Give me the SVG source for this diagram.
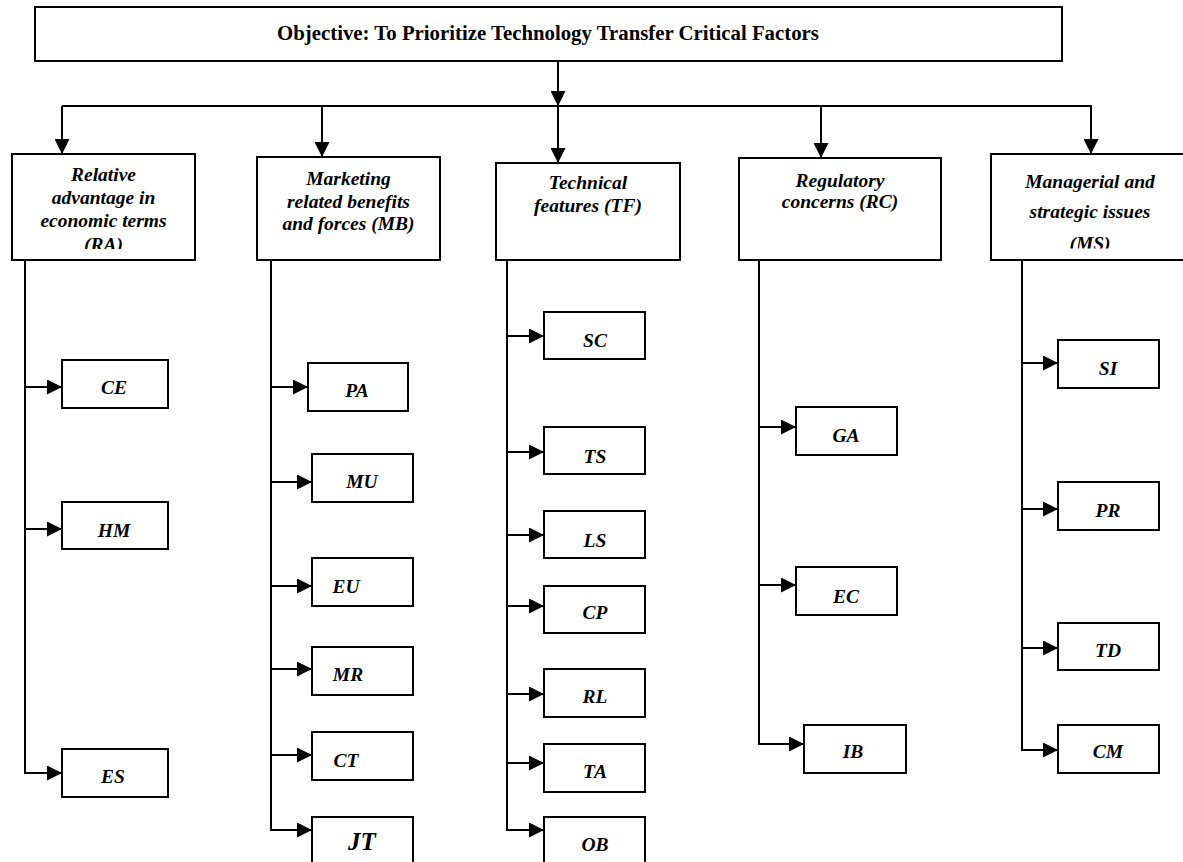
<svg xmlns="http://www.w3.org/2000/svg" width="1183" height="862" viewBox="0 0 1183 862">
<style>
.box{fill:#fff;stroke:#000;stroke-width:2}
.ln{fill:none;stroke:#000;stroke-width:2}
.ar{fill:none;stroke:#000;stroke-width:2;marker-end:url(#ah)}
.title{font-family:"Liberation Serif","Times New Roman",serif;font-weight:bold;font-size:20.8px;text-anchor:middle;fill:#000}
.hd{font-family:"Liberation Serif","Times New Roman",serif;font-weight:bold;font-style:italic;font-size:19.5px;text-anchor:middle;fill:#000}
.lf{font-family:"Liberation Serif","Times New Roman",serif;font-weight:bold;font-style:italic;font-size:19.5px;text-anchor:middle;fill:#000}
</style>
<defs>
<marker id="ah" markerUnits="userSpaceOnUse" markerWidth="15" markerHeight="15" refX="15" refY="7.5" orient="auto">
<path d="M0,0 L15,7.5 L0,15 z" fill="#000"/>
</marker>
<clipPath id="clipRA"><rect x="12" y="154" width="183" height="95"/></clipPath>
<clipPath id="clipMS"><rect x="991" y="154" width="200" height="94.5"/></clipPath>
</defs>
<rect width="1183" height="862" fill="#fff"/>

<g id="connectors">
<line class="ar" x1="558" y1="61" x2="558" y2="106"/>
<line class="ln" x1="62" y1="106" x2="1092" y2="106"/>
<line class="ar" x1="62" y1="106" x2="62" y2="154"/>
<line class="ar" x1="322" y1="106" x2="322" y2="157"/>
<line class="ar" x1="558" y1="106" x2="558" y2="163"/>
<line class="ar" x1="821" y1="106" x2="821" y2="158"/>
<line class="ar" x1="1091" y1="106" x2="1091" y2="154"/>
<polyline class="ln" points="25,260 25,773"/>
<line class="ar" x1="25" y1="387" x2="62" y2="387"/>
<line class="ar" x1="25" y1="529" x2="62" y2="529"/>
<line class="ar" x1="24" y1="773" x2="62" y2="773"/>
<polyline class="ln" points="271,260 271,830"/>
<line class="ar" x1="271" y1="387" x2="308" y2="387"/>
<line class="ar" x1="271" y1="482" x2="312" y2="482"/>
<line class="ar" x1="271" y1="586" x2="312" y2="586"/>
<line class="ar" x1="271" y1="669" x2="312" y2="669"/>
<line class="ar" x1="271" y1="755" x2="312" y2="755"/>
<line class="ar" x1="270" y1="830" x2="312" y2="830"/>
<polyline class="ln" points="507,260 507,830"/>
<line class="ar" x1="507" y1="336" x2="544" y2="336"/>
<line class="ar" x1="507" y1="452" x2="544" y2="452"/>
<line class="ar" x1="507" y1="535" x2="544" y2="535"/>
<line class="ar" x1="507" y1="606" x2="544" y2="606"/>
<line class="ar" x1="507" y1="694" x2="544" y2="694"/>
<line class="ar" x1="507" y1="763" x2="544" y2="763"/>
<line class="ar" x1="506" y1="830" x2="544" y2="830"/>
<polyline class="ln" points="759,260 759,744"/>
<line class="ar" x1="759" y1="427" x2="796" y2="427"/>
<line class="ar" x1="759" y1="585" x2="796" y2="585"/>
<line class="ar" x1="758" y1="744" x2="804" y2="744"/>
<polyline class="ln" points="1022,260 1022,750"/>
<line class="ar" x1="1022" y1="363" x2="1058" y2="363"/>
<line class="ar" x1="1022" y1="509" x2="1058" y2="509"/>
<line class="ar" x1="1022" y1="648" x2="1058" y2="648"/>
<line class="ar" x1="1021" y1="750" x2="1058" y2="750"/>
</g>

<g id="objective">
<rect class="box" x="35" y="7" width="1027" height="54"/>
<text class="title" x="548" y="40">Objective: To Prioritize Technology Transfer Critical Factors</text>
</g>

<g id="RA">
<rect class="box" x="12" y="154" width="183" height="106"/>
<g clip-path="url(#clipRA)">
<text class="hd" x="103.5" y="181">Relative</text>
<text class="hd" x="103.5" y="204">advantage in</text>
<text class="hd" x="103.5" y="227">economic terms</text>
<text class="hd" x="103.5" y="251">(RA)</text>
</g>
</g>
<g id="MB">
<rect class="box" x="257" y="157" width="183" height="103"/>
<text class="hd" x="348.5" y="185">Marketing</text>
<text class="hd" x="348.5" y="207.5">related benefits</text>
<text class="hd" x="348.5" y="230">and forces (MB)</text>
</g>
<g id="TF">
<rect class="box" x="496" y="163" width="184" height="97"/>
<text class="hd" x="588" y="189">Technical</text>
<text class="hd" x="588" y="212">features (TF)</text>
</g>
<g id="RC">
<rect class="box" x="739" y="158" width="202" height="102"/>
<text class="hd" x="840" y="187">Regulatory</text>
<text class="hd" x="840" y="208">concerns (RC)</text>
</g>
<g id="MS">
<rect class="box" x="991" y="154" width="198" height="106"/>
<g clip-path="url(#clipMS)">
<text class="hd" x="1090" y="188">Managerial and</text>
<text class="hd" x="1090" y="218">strategic issues</text>
<text class="hd" x="1090" y="250">(MS)</text>
</g>
</g>

<g id="CE"><rect class="box" x="62" y="360" width="106" height="48"/><text class="lf" x="114" y="394">CE</text></g>
<g id="HM"><rect class="box" x="62" y="502" width="106" height="47"/><text class="lf" x="114" y="537">HM</text></g>
<g id="ES"><rect class="box" x="62" y="749" width="106" height="48"/><text class="lf" x="113" y="783">ES</text></g>

<g id="PA"><rect class="box" x="308" y="363" width="100" height="48"/><text class="lf" x="357" y="397">PA</text></g>
<g id="MU"><rect class="box" x="312" y="454" width="101" height="48"/><text class="lf" x="362" y="488">MU</text></g>
<g id="EU"><rect class="box" x="312" y="558" width="101" height="48"/><text class="lf" x="346" y="593">EU</text></g>
<g id="MR"><rect class="box" x="312" y="647" width="101" height="48"/><text class="lf" x="348" y="681">MR</text></g>
<g id="CT"><rect class="box" x="312" y="732" width="101" height="48"/><text class="lf" x="346" y="767">CT</text></g>
<g id="JT"><rect class="box" x="312" y="817" width="101" height="60"/><text class="lf" x="362" y="850" style="font-size:25px">JT</text></g>

<g id="SC"><rect class="box" x="544" y="312" width="101" height="47"/><text class="lf" x="595" y="347">SC</text></g>
<g id="TS"><rect class="box" x="544" y="427" width="101" height="47"/><text class="lf" x="595" y="463">TS</text></g>
<g id="LS"><rect class="box" x="544" y="511" width="101" height="47"/><text class="lf" x="595" y="547">LS</text></g>
<g id="CP"><rect class="box" x="544" y="586" width="101" height="47"/><text class="lf" x="595" y="619">CP</text></g>
<g id="RL"><rect class="box" x="544" y="669" width="101" height="48"/><text class="lf" x="595" y="703">RL</text></g>
<g id="TA"><rect class="box" x="544" y="744" width="101" height="48"/><text class="lf" x="595" y="778">TA</text></g>
<g id="OB"><rect class="box" x="544" y="817" width="101" height="60"/><text class="lf" x="595" y="851">OB</text></g>

<g id="GA"><rect class="box" x="796" y="407" width="101" height="48"/><text class="lf" x="846" y="442">GA</text></g>
<g id="EC"><rect class="box" x="796" y="567" width="101" height="48"/><text class="lf" x="846" y="603">EC</text></g>
<g id="IB"><rect class="box" x="804" y="725" width="102" height="48"/><text class="lf" x="853" y="758">IB</text></g>

<g id="SI"><rect class="box" x="1058" y="340" width="101" height="48"/><text class="lf" x="1108" y="375">SI</text></g>
<g id="PR"><rect class="box" x="1058" y="482" width="101" height="48"/><text class="lf" x="1108" y="517">PR</text></g>
<g id="TD"><rect class="box" x="1058" y="623" width="101" height="47"/><text class="lf" x="1108" y="657">TD</text></g>
<g id="CM"><rect class="box" x="1058" y="725" width="101" height="48"/><text class="lf" x="1108" y="758">CM</text></g>
</svg>
